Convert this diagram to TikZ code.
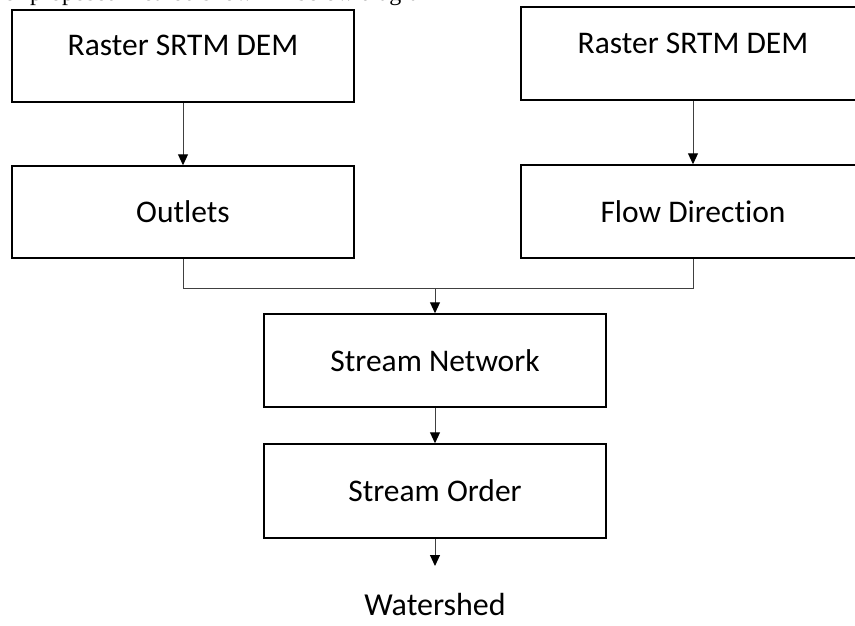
\documentclass[tikz,border=0pt]{standalone}
\usepackage{fontspec}
\setmainfont[Ligatures=NoCommon]{Carlito}
\newfontfamily\serifcap{Liberation Serif}
\usetikzlibrary{arrows.meta}
\tikzset{
  box/.style={draw=black, line width=1.5pt, rectangle, minimum width=342pt, inner sep=0pt, font=\fontsize{31.5}{36}\selectfont},
  conn/.style={draw=black!75, line width=1pt},
  arr/.style={conn, -{Triangle[width=10pt,length=11pt,fill=black,color=black]}}
}
\begin{document}
\begin{tikzpicture}[x=1pt,y=-1pt]
\useasboundingbox (0,0) rectangle (855,625);
\clip (0,0) rectangle (855,625);
\node[anchor=base west, font=\serifcap\fontsize{24}{28}\selectfont, inner sep=0pt] (cap) at (4,0.5) {of proposed method shown in below diagram};
\node[box, minimum height=92pt] (dem1) at (183,56) {\raisebox{22pt}{Raster SRTM DEM}};
\node[box, minimum width=344pt, minimum height=93pt] (dem2) at (693,53.5) {\raisebox{21pt}{Raster SRTM DEM}};
\node[box, minimum height=92pt] (out) at (183,212) {Outlets};
\node[box, minimum width=344pt, minimum height=93pt] (flow) at (693,211.5) {Flow Direction};
\node[box, minimum height=93pt] (net) at (435,360.5) {Stream Network};
\node[box, minimum height=94pt] (ord) at (435,491) {Stream Order};
\node[font=\fontsize{32}{36}\selectfont, inner sep=0pt] (ws) at (435,604) {Watershed};
\coordinate (join) at (435,288);
\coordinate (wsend) at (435,566);
\draw[arr] (dem1.south) -- (out.north);
\draw[arr] (dem2.south) -- (flow.north);
\draw[conn] (out.south) |- (join);
\draw[conn] (flow.south) |- (join);
\draw[arr] (join) -- (net.north);
\draw[arr] (net.south) -- (ord.north);
\draw[arr] (ord.south) -- (wsend);
\end{tikzpicture}
\end{document}
